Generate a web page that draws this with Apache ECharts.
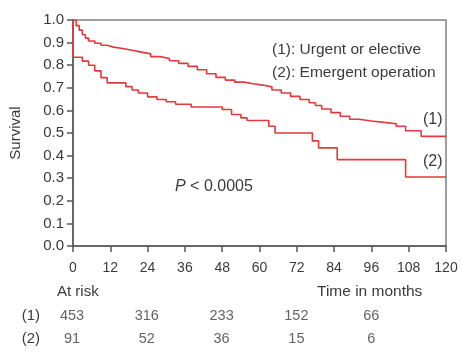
<!DOCTYPE html>
<html>
<head>
<meta charset="utf-8">
<script src="https://cdn.jsdelivr.net/npm/echarts@6/dist/echarts.min.js"></script>
<style>html,body{margin:0;padding:0;background:#fff}#c{width:462px;height:356px}</style>
</head>
<body>
<div id="c"></div>
<script>
var seriesNames = ['(1): Urgent or elective', '(2): Emergent operation'];
var curve1 = [[0,1.0],[1,0.975],[2,0.955],[3,0.935],[4,0.92],[5,0.907],[7,0.897],[9,0.888],[11,0.88],[13,0.874],[16,0.866],[19,0.858],[22,0.85],[25,0.838],[28,0.83],[31,0.82],[34,0.808],[37,0.795],[40,0.78],[43,0.762],[46,0.746],[49,0.734],[52,0.725],[55,0.718],[58,0.712],[61,0.704],[64,0.69],[67,0.677],[70,0.662],[73,0.648],[76,0.634],[78,0.622],[80,0.606],[83,0.59],[86,0.574],[89,0.561],[92,0.553],[96,0.547],[100,0.541],[104,0.53],[107,0.51],[112,0.485],[120,0.485]];
var curve2 = [[0,1.0],[0,0.835],[3,0.818],[5,0.80],[7,0.775],[9,0.745],[11,0.722],[17,0.705],[19,0.69],[21,0.677],[24,0.66],[27,0.648],[30,0.638],[33,0.627],[38,0.615],[48,0.604],[51,0.582],[54,0.567],[56,0.555],[63,0.53],[65,0.50],[77,0.465],[79,0.434],[85,0.382],[107,0.305],[120,0.305]];
var riskTimes = [0, 24, 48, 72, 96];
var riskRows = ['(1)', '(2)'];
var risk1 = [453, 316, 233, 152, 66];
var risk2 = [91, 52, 36, 15, 6];
var endLabels = ['(1)', '(2)'];

var FONT = 'Liberation Sans';
var TXT = '#3a3a3a';
var RED = '#e2393d';

var riskData = [];
riskTimes.forEach(function(t, i){
  riskData.push([t, riskRows[0], risk1[i]]);
  riskData.push([t, riskRows[1], risk2[i]]);
});

var chart = echarts.init(document.getElementById('c'), null, {renderer:'canvas'});
chart.setOption({
  animation: false,
  textStyle: {fontFamily: FONT, color: TXT},
  legend: {
    orient: 'vertical', left: 262, top: 37, itemGap: 7,
    icon: 'none', itemWidth: 0, itemHeight: 16,
    selectedMode: false,
    textStyle: {fontFamily: FONT, fontSize: 15.5, color: TXT},
    data: seriesNames
  },
  grid: [
    {left: 72, right: 16, top: 20, height: 226, show: true, borderColor: '#808080', borderWidth: 1.5},
    {left: 72, right: 16, top: 304, height: 46}
  ],
  xAxis: [
    {gridIndex: 0, type: 'value', min: 0, max: 120, interval: 12,
     axisLine: {show: true, lineStyle: {color: '#555', width: 1.5}},
     axisTick: {show: true, length: 6, lineStyle: {color: '#555', width: 1.5}},
     axisLabel: {fontSize: 14, color: TXT, fontFamily: FONT, margin: 15},
     splitLine: {show: false}},
    {gridIndex: 1, type: 'value', min: 0, max: 120, show: false}
  ],
  yAxis: [
    {gridIndex: 0, type: 'value', min: 0, max: 1, interval: 0.1,
     name: 'Survival', nameLocation: 'middle', nameGap: 50,
     nameTextStyle: {fontSize: 15, color: TXT, fontFamily: FONT},
     axisLine: {show: true, lineStyle: {color: '#555', width: 1.5}},
     axisTick: {show: true, length: 6, lineStyle: {color: '#555', width: 1.5}},
     axisLabel: {fontSize: 15, color: TXT, fontFamily: FONT, margin: 9,
       formatter: function(v){ return v.toFixed(1); }},
     splitLine: {show: false}},
    {gridIndex: 1, type: 'category', data: riskRows, inverse: true,
     axisLine: {show: false}, axisTick: {show: false},
     axisLabel: {fontSize: 15, color: TXT, fontFamily: FONT, margin: 32}}
  ],
  series: [
    {name: seriesNames[0], type: 'line', step: 'end', xAxisIndex: 0, yAxisIndex: 0,
     data: curve1, showSymbol: false, lineStyle: {color: RED, width: 1.6}, itemStyle: {color: RED}},
    {name: seriesNames[1], type: 'line', step: 'end', xAxisIndex: 0, yAxisIndex: 0,
     data: curve2, showSymbol: false, lineStyle: {color: RED, width: 1.6}, itemStyle: {color: RED}},
    {type: 'scatter', xAxisIndex: 1, yAxisIndex: 1, data: riskData, symbolSize: 0,
     label: {show: true, position: 'inside', fontSize: 14.5, color: TXT, fontFamily: FONT,
       formatter: function(p){ return String(p.value[2]); }}}
  ],
  graphic: [
    {type: 'text', left: 57, top: 284, style: {text: 'At risk', font: '15px ' + FONT, fill: TXT}},
    {type: 'text', left: 317, top: 284, style: {text: 'Time in months', font: '15.5px ' + FONT, fill: TXT}},
    {type: 'text', left: 175, top: 179, style: {
      text: '{i|P} < 0.0005', font: '16px ' + FONT, fill: TXT,
      rich: {i: {fontStyle: 'italic', fontSize: 16, fontFamily: FONT, fill: TXT}}}},
    {type: 'text', left: 423, top: 112, style: {text: endLabels[0], font: '16px ' + FONT, fill: TXT}},
    {type: 'text', left: 423, top: 154, style: {text: endLabels[1], font: '16px ' + FONT, fill: TXT}}
  ]
});
</script>
</body>
</html>
